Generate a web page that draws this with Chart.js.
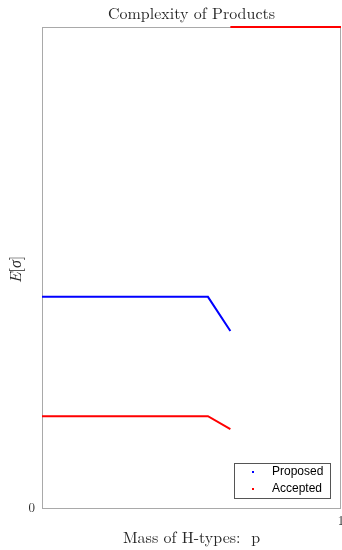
<!DOCTYPE html>
<html>
<head>
<meta charset="utf-8">
<style>
  html, body { margin: 0; padding: 0; background: #ffffff; }
  #wrap { width: 342px; height: 550px; }
</style>
<script src="https://cdn.jsdelivr.net/npm/chart.js@4/dist/chart.umd.min.js"></script>
</head>
<body>
<div id="wrap"><canvas id="chart" width="342" height="550"></canvas></div>
<script>
// Mass of H-types (p) at which each series is sampled
const pMass = [0, 0.555, 0.63];
// Expected complexity E[sigma] of proposed products
const proposedValues = [0.439, 0.439, 0.368];
// Expected complexity E[sigma] of accepted products
const acceptedValues = [0.191, 0.191, 0.164];
// Upper branch of accepted products
const pMassHigh = [0.63, 1];
const acceptedHighValues = [1, 1];
// Tick labels
const xTickValues = [1];
const yTickValues = [0];
const yMax = 1;

const seriesNames = ['Proposed', 'Accepted'];
const seriesColors = ['#0000ff', '#ff0000'];

const toPoints = (xs, ys) => xs.map((x, i) => ({ x: x, y: ys[i] }));

const acceptedPoints = toPoints(pMass, acceptedValues)
  .concat([{ x: pMassHigh[0], y: null }])
  .concat(toPoints(pMassHigh, acceptedHighValues));

const serif = '"Latin Modern Roman", "Liberation Serif", "DejaVu Serif", serif';
const sans = '"Liberation Sans", Arial, sans-serif';
const frameColor = '#a9a9a9';

const decorations = {
  id: 'decorations',
  beforeDatasetsDraw(chart) {
    // box around the plot area
    const ctx = chart.ctx;
    const a = chart.chartArea;
    ctx.save();
    ctx.strokeStyle = frameColor;
    ctx.lineWidth = 1;
    ctx.strokeRect(Math.round(a.left) + 0.5, Math.round(a.top) + 0.5,
                   Math.round(a.right - a.left) - 1, Math.round(a.bottom - a.top));
    ctx.restore();
  },
  afterDraw(chart) {
    const ctx = chart.ctx;
    const a = chart.chartArea;
    ctx.save();
    ctx.fillStyle = '#262626';

    // title
    ctx.font = '16px ' + serif;
    ctx.textAlign = 'center';
    ctx.textBaseline = 'alphabetic';
    ctx.fillText('Complexity of Products', (a.left + a.right) / 2, 19);

    // x axis title
    ctx.fillText('Mass of H-types:  p', (a.left + a.right) / 2, 543);

    // y axis title: E[σ]
    ctx.save();
    ctx.translate(21, (a.top + a.bottom) / 2 + 2);
    ctx.rotate(-Math.PI / 2);
    const partE = 'E', partL = '[', partS = 'σ', partR = ']';
    ctx.font = 'italic 16px ' + serif;
    const wE = ctx.measureText(partE).width;
    const wS = ctx.measureText(partS).width;
    ctx.font = '16px ' + serif;
    const wL = ctx.measureText(partL).width;
    const wR = ctx.measureText(partR).width;
    let x = -(wE + wL + wS + wR) / 2;
    ctx.textAlign = 'left';
    ctx.font = 'italic 16px ' + serif; ctx.fillText(partE, x, 0); x += wE;
    ctx.font = '16px ' + serif; ctx.fillText(partL, x, 0); x += wL;
    ctx.font = 'italic 16px ' + serif; ctx.fillText(partS, x, 0); x += wS;
    ctx.font = '16px ' + serif; ctx.fillText(partR, x, 0);
    ctx.restore();

    // legend
    const bx = 234.5, by = 463.5, bw = 96, bh = 35;
    ctx.fillStyle = '#ffffff';
    ctx.fillRect(bx, by, bw, bh);
    ctx.strokeStyle = '#555555';
    ctx.lineWidth = 1;
    ctx.strokeRect(bx, by, bw, bh);
    ctx.font = '12px ' + sans;
    ctx.textAlign = 'left';
    ctx.textBaseline = 'middle';
    seriesNames.forEach((name, i) => {
      const cy = 472 + i * 17;
      ctx.fillStyle = seriesColors[i];
      ctx.fillRect(252, cy - 1, 2, 2);
      ctx.fillStyle = '#000000';
      ctx.fillText(name, 272, cy);
    });
    ctx.restore();
  }
};

new Chart(document.getElementById('chart'), {
  type: 'scatter',
  data: {
    datasets: [
      {
        label: seriesNames[0],
        data: toPoints(pMass, proposedValues),
        showLine: true,
        borderColor: seriesColors[0],
        backgroundColor: seriesColors[0],
        borderWidth: 2,
        pointRadius: 0,
        tension: 0
      },
      {
        label: seriesNames[1],
        data: acceptedPoints,
        showLine: true,
        spanGaps: false,
        borderColor: seriesColors[1],
        backgroundColor: seriesColors[1],
        borderWidth: 2,
        pointRadius: 0,
        tension: 0,
        clip: false
      }
    ]
  },
  options: {
    responsive: false,
    animation: false,
    events: [],
    layout: { padding: { top: 27, right: 1, left: 0, bottom: 0 } },
    plugins: {
      legend: { display: false },
      tooltip: { enabled: false },
      title: { display: false }
    },
    scales: {
      x: {
        type: 'linear',
        min: 0,
        max: 1,
        grid: { display: false, drawTicks: false },
        border: { display: false },
        afterBuildTicks: s => { s.ticks = xTickValues.map(v => ({ value: v })); },
        afterFit: s => { s.height = 42; s.paddingRight = 0; s.paddingLeft = 0; },
        ticks: {
          color: '#262626',
          font: { family: serif, size: 13 },
          padding: 5,
          maxRotation: 0,
          autoSkip: false
        }
      },
      y: {
        type: 'linear',
        min: 0,
        max: yMax,
        grid: { display: false, drawTicks: false },
        border: { display: false },
        afterBuildTicks: s => { s.ticks = yTickValues.map(v => ({ value: v })); },
        afterFit: s => { s.width = 42; s.paddingTop = 0; s.paddingBottom = 0; },
        ticks: {
          color: '#262626',
          font: { family: serif, size: 13 },
          padding: 7,
          autoSkip: false
        }
      }
    }
  },
  plugins: [decorations]
});
</script>
</body>
</html>
